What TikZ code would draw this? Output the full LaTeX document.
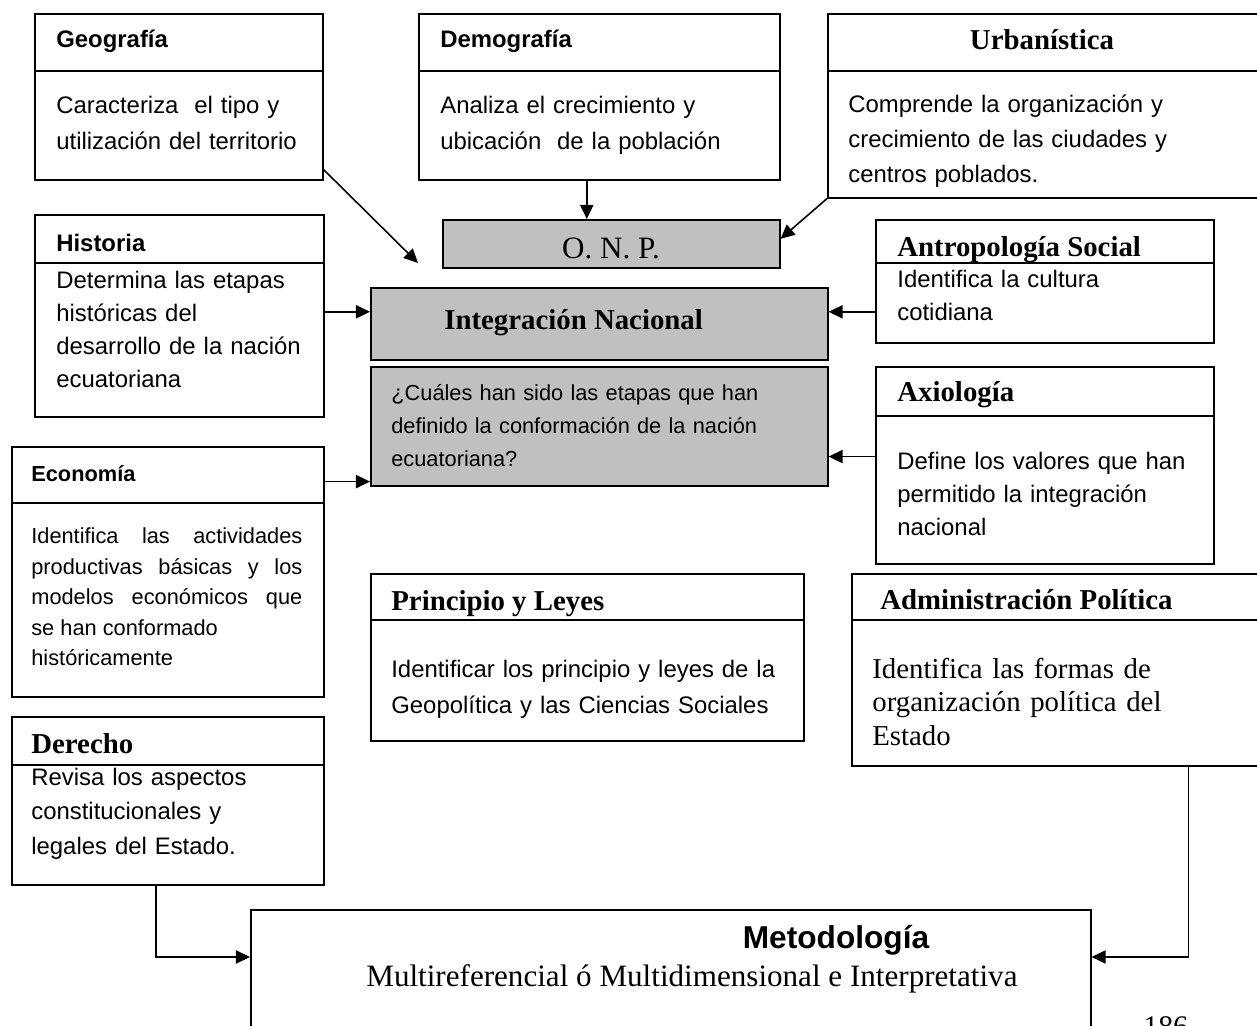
\documentclass[tikz,border=0pt]{standalone}
\usepackage{fontspec}
\setmainfont{Liberation Serif}
\setsansfont{Liberation Sans}
\usetikzlibrary{arrows.meta}
\definecolor{boxgray}{RGB}{192,192,192}
\newcommand\pxu{0.02cm}
\parindent=0pt

\tikzset{
  box/.style={draw, line width=0.9pt, inner sep=0pt, anchor=north west},
  greybox/.style={box, fill=boxgray},
  arr/.style={line width=0.9pt, -{Triangle[length=8pt,width=7.5pt]}},
  sfhead/.style={inner sep=0pt, anchor=base west, font=\sffamily\bfseries\fontsize{13.6}{16}\selectfont},
  rmhead/.style={inner sep=0pt, anchor=base west, font=\rmfamily\bfseries\fontsize{16.4}{19}\selectfont},
  sftext/.style={inner sep=0pt, anchor=base west, text width=10cm, align=left, font=\sffamily\fontsize{13.6}{#1}\selectfont},
  smalltext/.style={inner sep=0pt, anchor=base west, text width=10cm, align=left, font=\sffamily\fontsize{12.4}{#1}\selectfont},
  rmtext/.style={inner sep=0pt, anchor=base west, text width=10cm, align=left, font=\rmfamily\fontsize{16.4}{#1}\selectfont}
}

\begin{document}
\begin{tikzpicture}[x=\pxu, y=-\pxu]
\useasboundingbox (0,0) rectangle (1257,1026);
% top row
\node[box, minimum width={288*\pxu}, minimum height={166*\pxu}] (geo) at (34,13) {};
\draw[line width=0.9pt] (geo.west |- 0,71) -- (geo.east |- 0,71);
\node[sfhead] (geotitle) at (56,48) {Geografía};
\node[sftext=20.4] (geotext) at (56,114) {Caracteriza\ \ el tipo y\\utilización del territorio};
\node[box, minimum width={361*\pxu}, minimum height={166*\pxu}] (demo) at (418,13) {};
\draw[line width=0.9pt] (demo.west |- 0,71) -- (demo.east |- 0,71);
\node[sfhead] (demotitle) at (440,48) {Demografía};
\node[sftext=20.4] (demotext) at (440,114) {Analiza el crecimiento y\\ubicación\ \ de la población};
\node[box, minimum width={435*\pxu}, minimum height={184*\pxu}] (urb) at (827,13) {};
\draw[line width=0.9pt] (urb.west |- 0,71) -- (urb.east |- 0,71);
\node[rmhead, anchor=base] (urbtitle) at (1042,50) {Urbanística};
\node[sftext=19.8] (urbtext) at (848,113) {Comprende la organización y\\crecimiento de las ciudades y\\centros poblados.};
% centre column
\node[greybox, minimum width={337*\pxu}, minimum height={48*\pxu}] (onp) at (442,219) {};
\begin{scope}
\clip (onp.north west) rectangle ([yshift=0.2cm]onp.south east);
\node[inner sep=0pt, anchor=base, font=\rmfamily\fontsize{17.7}{21}\selectfont] (onptext) at (611,259) {O. N. P.};
\end{scope}
\node[greybox, minimum width={457*\pxu}, minimum height={72*\pxu}] (integ) at (370,287) {};
\node[rmhead] (integtitle) at (444,330) {Integración Nacional};
\node[greybox, minimum width={457*\pxu}, minimum height={119*\pxu}] (quest) at (370,366) {};
\node[smalltext=18.7] (questtext) at (391,401) {¿Cuáles han sido las etapas que han\\definido la conformación de la nación\\ecuatoriana?};
% left column
\node[box, minimum width={289*\pxu}, minimum height={202*\pxu}] (hist) at (34,214) {};
\draw[line width=0.9pt] (hist.west |- 0,263) -- (hist.east |- 0,263);
\node[sfhead] (histtitle) at (56,252) {Historia};
\node[sftext=18.7] (histtext) at (56,289) {Determina las etapas\\históricas del\\desarrollo de la nación\\ecuatoriana};
\node[box, minimum width={312*\pxu}, minimum height={250*\pxu}] (econ) at (11,446) {};
\draw[line width=0.9pt] (econ.west |- 0,503) -- (econ.east |- 0,503);
\node[sfhead, font=\sffamily\bfseries\fontsize{12.4}{15}\selectfont] (econtitle) at (31,482) {Economía};
\node[smalltext=17.3, align=justify, text width={271*\pxu}] (econtext) at (31,544) {Identifica las actividades\linebreak productivas básicas y los\linebreak modelos económicos que\linebreak se han conformado\\históricamente};
\node[box, minimum width={312*\pxu}, minimum height={168*\pxu}] (der) at (11,716) {};
\draw[line width=0.9pt] (der.west |- 0,765) -- (der.east |- 0,765);
\node[rmhead] (dertitle) at (31,753) {Derecho};
\node[sftext=19.8] (dertext) at (31,785) {Revisa los aspectos\\constitucionales y\\legales del Estado.};
% right column
\node[box, minimum width={338*\pxu}, minimum height={123*\pxu}] (anth) at (875,219) {};
\draw[line width=0.9pt] (anth.west |- 0,263) -- (anth.east |- 0,263);
\node[rmhead] (anthtitle) at (897,257) {Antropología Social};
\node[sftext=18.7] (anthtext) at (897,288) {Identifica la cultura\\cotidiana};
\node[box, minimum width={338*\pxu}, minimum height={197*\pxu}] (axio) at (875,366) {};
\draw[line width=0.9pt] (axio.west |- 0,416) -- (axio.east |- 0,416);
\node[rmhead] (axiotitle) at (897,402) {Axiología};
\node[sftext=18.7] (axiotext) at (897,470) {Define los valores que han\\permitido la integración\\nacional};
\node[box, minimum width={433*\pxu}, minimum height={167*\pxu}] (princ) at (370,573) {};
\draw[line width=0.9pt] (princ.west |- 0,620) -- (princ.east |- 0,620);
\node[rmhead] (princtitle) at (391,610) {Principio y Leyes};
\node[sftext=21] (princtext) at (391,677) {Identificar los principio y leyes de la\\Geopolítica y las Ciencias Sociales};
\node[box, minimum width={411*\pxu}, minimum height={192*\pxu}] (adm) at (851,573) {};
\draw[line width=0.9pt] (adm.west |- 0,620) -- (adm.east |- 0,620);
\node[rmhead] (admtitle) at (880,609) {Administración Política};
\node[rmtext=19.3] (admtext) at (872,678) {Identifica las formas de\\organización política del\\Estado};
% bottom
\node[box, minimum width={840*\pxu}, minimum height={150*\pxu}] (met) at (250,909) {};
\node[inner sep=0pt, anchor=base, font=\sffamily\bfseries\fontsize{18}{21}\selectfont] (mettitle) at (836,948) {Metodología};
\node[inner sep=0pt, anchor=base west, font=\rmfamily\fontsize{17.7}{21}\selectfont] (mettext) at (366,986) {Multireferencial ó Multidimensional e Interpretativa};
\node[inner sep=0pt, anchor=base west, font=\rmfamily\fontsize{17}{20}\selectfont] (pagenum) at (1143,1036) {186};
% connectors
\coordinate (geotip) at (418,263);
\draw[arr] ([yshift=0.22cm]geo.south east) -- (geotip);
\draw[arr] ([xshift=-0.25cm]demo.south) -- ([xshift=-0.25cm]demo.south |- onp.north);
\draw[arr] (urb.south west) -- ([yshift=0.1cm]onp.east);
\draw[arr] ([yshift=0.08cm]hist.east) -- ([yshift=0.08cm]hist.east -| integ.west);
\draw[arr] ([yshift=0.08cm]anth.west |- hist.east) -- ([yshift=0.08cm]integ.east |- hist.east);
\coordinate (qin) at ([yshift=0.1cm]quest.south west);
\draw[arr] (econ.east |- qin) -- (qin);
\coordinate (qax) at ([yshift=0.6cm]quest.south east);
\draw[arr] (axio.west |- qax) -- (qax);
\coordinate (metin) at ([yshift=-0.96cm]met.north west);
\coordinate (metout) at ([yshift=-0.96cm]met.north east);
\draw[arr] ([xshift=-0.24cm]der.south) |- (metin);
\draw[arr] ([xshift=-1.5cm]adm.south east) |- (metout);
\end{tikzpicture}
\end{document}
